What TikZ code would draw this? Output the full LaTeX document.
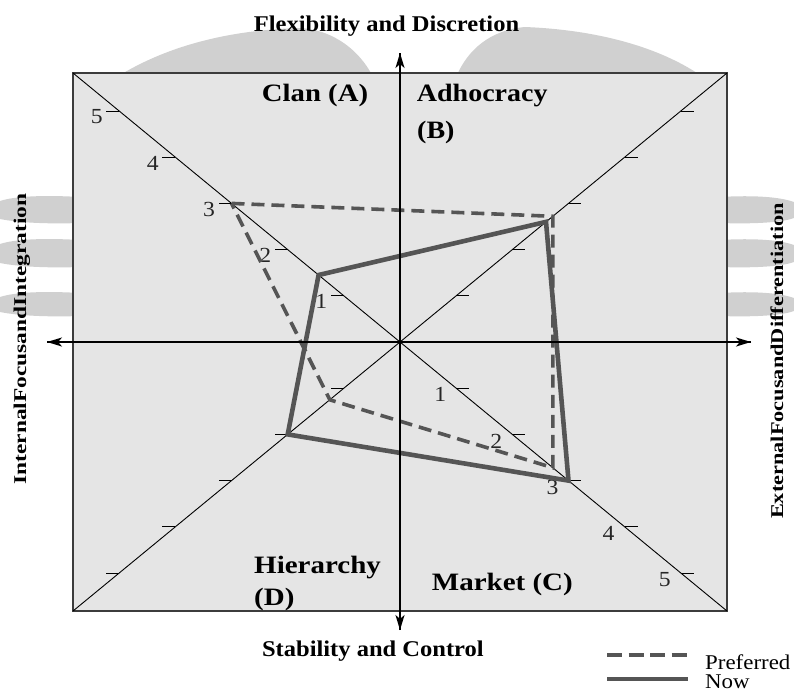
\documentclass[tikz,border=0pt]{standalone}
\usepackage{fontspec}
\setmainfont{Liberation Serif}
\usetikzlibrary{arrows.meta}
\definecolor{plotline}{RGB}{85,85,85}
\definecolor{panel}{RGB}{229,229,229}
\definecolor{framegrey}{RGB}{60,60,60}
\definecolor{wmgrey}{RGB}{208,208,208}
\newcommand{\hstretch}[2]{\scalebox{#1}[1]{#2}}
\begin{document}
\begin{tikzpicture}[x=1pt,y=-1pt,
  quad/.style={inner sep=0pt, anchor=base west, font=\fontsize{25}{30}\selectfont\bfseries},
  axislabel/.style={inner sep=0pt, anchor=base, font=\fontsize{22.5}{27}\selectfont\bfseries},
  sidelabel/.style={inner sep=0pt, anchor=base, rotate=90, font=\fontsize{18}{22}\selectfont\bfseries},
  num/.style={inner sep=0pt, font=\fontsize{21.5}{25}\selectfont, text=black!85},
  legendtext/.style={inner sep=0pt, anchor=base west, font=\fontsize{21}{25}\selectfont},
  axisline/.style={line width=2pt, -{Stealth[length=15pt,width=9pt,inset=4pt]}},
  diag/.style={line width=0.9pt},
  tickmark/.style={line width=0.9pt},
  preferred/.style={plotline, line width=3.6pt, dash pattern=on 13pt off 7pt},
  now/.style={plotline, line width=4.6pt, line join=miter},
  watermark/.style={fill=wmgrey, draw=none},
]
\useasboundingbox (0,0) rectangle (794,691);

% faint logo watermark behind the chart
\fill[watermark] (120,75) .. controls (170,45) and (230,30) .. (300,28)
  .. controls (335,30) and (360,52) .. (372,75) -- cycle;
\fill[watermark] (457,75) .. controls (468,50) and (490,30) .. (525,27)
  .. controls (600,30) and (660,48) .. (700,75) -- cycle;
\foreach \ya/\yb in {197/223, 240/267, 293/316} {
  \fill[watermark] (80,\ya) .. controls (45,\ya-2) and (15,\ya-1) .. (0,\ya+4)
    -- (0,\yb-4) .. controls (20,\yb) and (50,\yb+1) .. (80,\yb) -- cycle;
  \fill[watermark] (720,\ya) .. controls (755,\ya-2) and (780,\ya) .. (794,\ya+5)
    -- (794,\yb-5) .. controls (780,\yb) and (750,\yb+1) .. (720,\yb) -- cycle;
}

% panel and diagonals
\coordinate (O) at (400,342);
\coordinate (TL) at (73,73);
\coordinate (TR) at (727,73);
\coordinate (BR) at (727,611);
\coordinate (BL) at (73,611);
\path[fill=panel, draw=framegrey, line width=1.5pt] (TL) rectangle (BR);
\draw[diag] (TL) -- (BR);
\draw[diag] (TR) -- (BL);

% scale ticks on the four half-diagonals
\foreach \k in {1,...,5} {
  \draw[tickmark] ({400-56.16*\k},{342-46.2*\k}) -- ++(-13,0);
  \draw[tickmark] ({400+56.16*\k},{342-46.2*\k}) -- ++(13,0);
  \draw[tickmark] ({400+56.16*\k},{342+46.2*\k}) -- ++(13,0);
  \draw[tickmark] ({400-56.16*\k},{342+46.2*\k}) -- ++(-13,0);
  \node[num] (ntl\k) at ({400-56.16*\k-22.5},{342-46.2*\k+6}) {\hstretch{1.1}{\k}};
  \node[num] (nbr\k) at ({400+56.16*\k-16},{342+46.2*\k+6.5}) {\hstretch{1.1}{\k}};
}

% profile corners (A: top-left, B: top-right, C: bottom-right, D: bottom-left)
\coordinate (pa) at (231.5,203.4);
\coordinate (pb) at (552.8,216.3);
\coordinate (pc) at (552.8,467.7);
\coordinate (pd) at (329.8,399.8);
\coordinate (na) at (318.6,275.0);
\coordinate (nb) at (546.0,221.9);
\coordinate (nc) at (568.5,480.6);
\coordinate (nd) at (287.7,434.4);
\draw[now] (na) -- (nb) -- (nc) -- (nd) -- cycle;
\draw[preferred] (pa) -- (pb) -- (pc) -- (pd) -- cycle;

% axes
\coordinate (vtop) at (400,53);
\coordinate (vbot) at (400,630);
\coordinate (hleft) at (47,342);
\coordinate (hright) at (751,342);
\draw[axisline] (vbot) -- (vtop);
\draw[axisline] (vtop) -- (vbot);
\draw[axisline] (hright) -- (hleft);
\draw[axisline] (hleft) -- (hright);

% axis titles
\node[axislabel] (flex) at (386.5,31.7) {\hstretch{1.09}{Flexibility and Discretion}};
\node[axislabel] (stab) at (372.9,656.7) {\hstretch{1.09}{Stability and Control}};
\node[sidelabel] (intl) at (26,339) {\hstretch{1.3}{InternalFocusandIntegration}};
\node[sidelabel] (extl) at (783,361) {\hstretch{1.24}{ExternalFocusandDifferentiation}};

% quadrant names
\node[quad] (clan) at (261.7,101.7) {\hstretch{1.15}{Clan (A)}};
\node[quad] (adho) at (416.7,101.7) {\hstretch{1.12}{Adhocracy}};
\node[quad] (adhob) at (417,138) {\hstretch{1.12}{(B)}};
\node[quad] (hier) at (254,573) {\hstretch{1.16}{Hierarchy}};
\node[quad] (hierd) at (254,605) {\hstretch{1.16}{(D)}};
\node[quad] (mark) at (431.7,590) {\hstretch{1.16}{Market (C)}};

% legend
\coordinate (lp1) at (607,655);
\coordinate (lp2) at (688,655);
\coordinate (ln1) at (607,679);
\coordinate (ln2) at (688,679);
\draw[preferred, dash pattern=on 15pt off 6.5pt] (lp1) -- (lp2);
\draw[now] (ln1) -- (ln2);
\node[legendtext] (lpt) at (705,669) {\hstretch{1.09}{Preferred}};
\node[legendtext] (lnt) at (705,688) {\hstretch{1.09}{Now}};
\end{tikzpicture}
\end{document}
